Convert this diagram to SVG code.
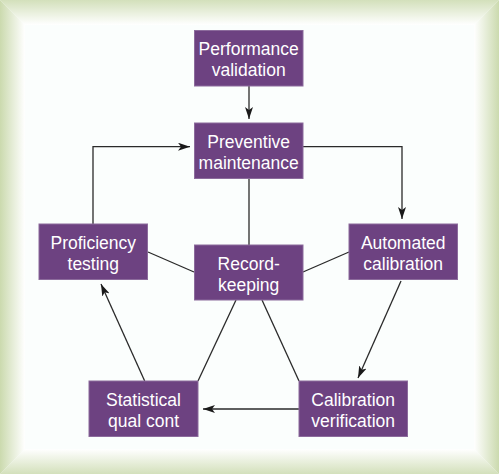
<svg xmlns="http://www.w3.org/2000/svg" width="499" height="474" viewBox="0 0 499 474">
<defs>
<linearGradient id="gT" x1="0" y1="0" x2="0" y2="1"><stop offset="0" stop-color="#d3e0bb"/><stop offset="1" stop-color="#ffffff"/></linearGradient>
<linearGradient id="gB" x1="0" y1="1" x2="0" y2="0"><stop offset="0" stop-color="#d3e0bb"/><stop offset="1" stop-color="#ffffff"/></linearGradient>
<linearGradient id="gL" x1="0" y1="0" x2="1" y2="0"><stop offset="0" stop-color="#cbdaae"/><stop offset="1" stop-color="#ffffff"/></linearGradient>
<linearGradient id="gR" x1="1" y1="0" x2="0" y2="0"><stop offset="0" stop-color="#cbdaae"/><stop offset="1" stop-color="#ffffff"/></linearGradient>
<marker id="arr" viewBox="0 0 12 8" refX="12" refY="4" markerWidth="12" markerHeight="8" markerUnits="userSpaceOnUse" orient="auto">
<path d="M0,0 L12,4 L0,8 L3,4 z" fill="#1a1a1a"/>
</marker>
<style>
.box{fill:#6d4281;stroke:#8c6b9c;stroke-width:1}
.lbl{font-family:"Liberation Sans",Arial,sans-serif;font-size:17.5px;fill:#ffffff;text-anchor:middle}
.ln{fill:none;stroke:#2a2a2a;stroke-width:1.3}
</style>
</defs>
<rect x="0" y="0" width="499" height="474" fill="#fbfefd"/>
<polygon points="0,0 499,0 474,25 25,25" fill="url(#gT)"/>
<polygon points="0,474 499,474 474,449 25,449" fill="url(#gB)"/>
<polygon points="0,0 25,25 25,449 0,474" fill="url(#gL)"/>
<polygon points="499,0 474,25 474,449 499,474" fill="url(#gR)"/>
<g id="connectors">
<line class="ln" x1="249" y1="86" x2="249" y2="119" marker-end="url(#arr)"/>
<polyline class="ln" points="93,224 93,146.7 190,146.7" marker-end="url(#arr)"/>
<polyline class="ln" points="303,146.7 402,146.7 402,219" marker-end="url(#arr)"/>
<line class="ln" x1="249" y1="179" x2="249" y2="245"/>
<line class="ln" x1="148" y1="252" x2="194" y2="272"/>
<line class="ln" x1="349" y1="252" x2="303" y2="272"/>
<line class="ln" x1="401" y1="281" x2="358" y2="378" marker-end="url(#arr)"/>
<line class="ln" x1="236" y1="300" x2="198" y2="381"/>
<line class="ln" x1="262" y1="300" x2="299" y2="381"/>
<line class="ln" x1="299" y1="409" x2="203" y2="409" marker-end="url(#arr)"/>
<line class="ln" x1="144.7" y1="381" x2="101" y2="284" marker-end="url(#arr)"/>
</g>
<g id="performance-validation">
<rect class="box" x="194.5" y="30.5" width="108.5" height="55.5"/>
<text class="lbl" x="248.7" y="55">Performance</text>
<text class="lbl" x="248.7" y="76">validation</text>
</g>
<g id="preventive-maintenance">
<rect class="box" x="194.5" y="123" width="108.5" height="55.5"/>
<text class="lbl" x="248.7" y="147.5">Preventive</text>
<text class="lbl" x="248.7" y="168.5">maintenance</text>
</g>
<g id="proficiency-testing">
<rect class="box" x="39" y="224" width="108.5" height="55.5"/>
<text class="lbl" x="93.3" y="248.5">Proficiency</text>
<text class="lbl" x="93.3" y="269.5">testing</text>
</g>
<g id="record-keeping">
<rect class="box" x="194.5" y="245" width="108.5" height="55"/>
<text class="lbl" x="248.7" y="269.5">Record-</text>
<text class="lbl" x="248.7" y="290.5">keeping</text>
</g>
<g id="automated-calibration">
<rect class="box" x="349" y="224" width="108.5" height="55.5"/>
<text class="lbl" x="403.2" y="248.5">Automated</text>
<text class="lbl" x="403.2" y="269.5">calibration</text>
</g>
<g id="statistical-qual-cont">
<rect class="box" x="89" y="381" width="109" height="55.5"/>
<text class="lbl" x="143.5" y="405.5">Statistical</text>
<text class="lbl" x="143.5" y="426.5">qual cont</text>
</g>
<g id="calibration-verification">
<rect class="box" x="299" y="381" width="108.5" height="55.5"/>
<text class="lbl" x="353.2" y="405.5">Calibration</text>
<text class="lbl" x="353.2" y="426.5">verification</text>
</g>
</svg>
